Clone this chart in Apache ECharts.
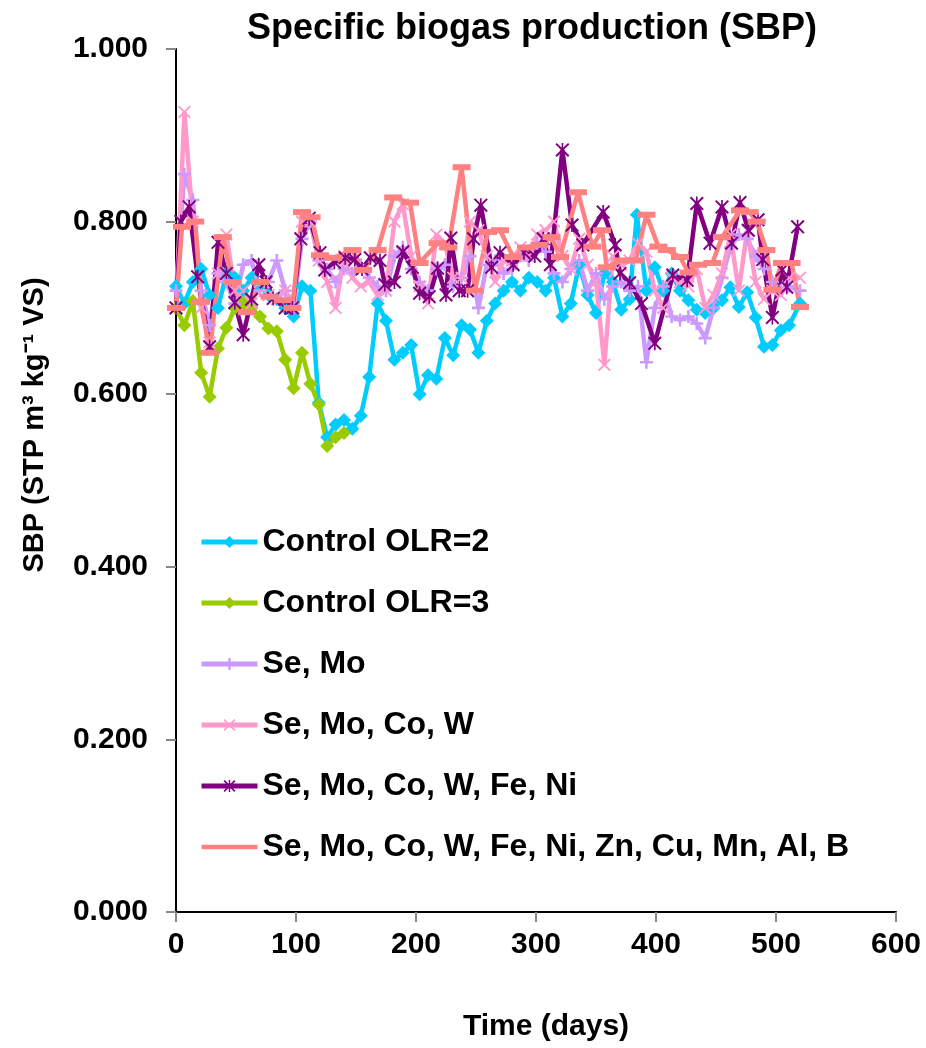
<!DOCTYPE html>
<html>
<head>
<meta charset="utf-8">
<script src="https://cdn.jsdelivr.net/npm/echarts@6/dist/echarts.min.js"></script>
<style>
  html, body { margin: 0; padding: 0; background: #fff; }
  #chart { width: 926px; height: 1048px; }
</style>
</head>
<body>
<div id="chart"></div>
<script>
// data: [day, SBP]
var control2 = [[0,0.725],[7,0.705],[14,0.730],[21,0.745],[28,0.715],[35,0.700],[42,0.740],[49,0.735],[56,0.720],[63,0.735],[70,0.725],[77,0.715],[84,0.710],[91,0.700],[98,0.690],[105,0.725],[112,0.720],[119,0.590],[126,0.550],[133,0.565],[140,0.570],[147,0.560],[154,0.575],[161,0.620],[168,0.705],[175,0.685],[182,0.640],[189,0.648],[196,0.657],[203,0.600],[210,0.622],[217,0.618],[224,0.665],[231,0.645],[238,0.680],[245,0.675],[252,0.648],[259,0.685],[266,0.705],[273,0.720],[280,0.730],[287,0.720],[294,0.735],[301,0.730],[308,0.720],[315,0.735],[322,0.690],[329,0.705],[336,0.750],[343,0.715],[350,0.694],[357,0.740],[364,0.730],[371,0.698],[378,0.710],[384,0.808],[392,0.720],[399,0.747],[406,0.720],[413,0.740],[420,0.720],[427,0.709],[434,0.698],[441,0.694],[448,0.700],[455,0.709],[462,0.724],[469,0.701],[476,0.718],[483,0.689],[490,0.655],[497,0.657],[504,0.674],[511,0.680],[520,0.705]];
var control3 = [[0,0.700],[7,0.680],[14,0.708],[21,0.625],[28,0.597],[35,0.653],[42,0.677],[49,0.700],[56,0.706],[63,0.700],[70,0.690],[77,0.676],[84,0.673],[91,0.640],[98,0.607],[105,0.648],[112,0.612],[119,0.588],[126,0.540],[133,0.550],[140,0.555]];
var seMo = [[0,0.720],[7,0.855],[14,0.825],[21,0.720],[28,0.680],[35,0.740],[42,0.730],[49,0.705],[56,0.750],[63,0.755],[70,0.720],[77,0.730],[84,0.755],[91,0.720],[98,0.700],[105,0.780],[112,0.800],[119,0.755],[126,0.745],[133,0.730],[140,0.745],[147,0.740],[154,0.750],[161,0.735],[168,0.725],[175,0.720],[182,0.760],[189,0.770],[196,0.745],[203,0.730],[210,0.720],[217,0.745],[224,0.750],[231,0.725],[238,0.735],[245,0.760],[252,0.700],[259,0.750],[266,0.755],[273,0.740],[280,0.745],[287,0.760],[294,0.755],[301,0.775],[308,0.765],[315,0.740],[322,0.730],[329,0.745],[336,0.755],[343,0.720],[350,0.740],[357,0.710],[364,0.725],[371,0.730],[378,0.720],[385,0.725],[392,0.637],[399,0.700],[406,0.725],[413,0.690],[420,0.686],[427,0.690],[434,0.682],[441,0.665],[448,0.700],[455,0.735],[462,0.770],[469,0.785],[476,0.780],[483,0.760],[490,0.745],[497,0.730],[504,0.720],[511,0.725],[520,0.720]];
var seMoCoW = [[0,0.700],[7,0.927],[14,0.800],[21,0.700],[28,0.660],[35,0.740],[42,0.785],[49,0.720],[56,0.720],[63,0.705],[70,0.730],[77,0.715],[84,0.710],[91,0.720],[98,0.700],[105,0.800],[112,0.800],[119,0.755],[126,0.730],[133,0.700],[140,0.760],[147,0.735],[154,0.725],[161,0.730],[168,0.715],[175,0.720],[182,0.800],[189,0.820],[196,0.760],[203,0.725],[210,0.705],[217,0.785],[224,0.775],[231,0.735],[238,0.735],[245,0.800],[252,0.790],[259,0.760],[266,0.730],[273,0.755],[280,0.755],[287,0.770],[294,0.760],[301,0.785],[308,0.790],[315,0.800],[322,0.760],[329,0.745],[336,0.780],[343,0.750],[350,0.730],[357,0.634],[364,0.760],[371,0.750],[378,0.755],[385,0.775],[392,0.765],[399,0.720],[406,0.700],[413,0.735],[420,0.730],[427,0.725],[434,0.745],[441,0.700],[448,0.715],[455,0.740],[462,0.785],[469,0.720],[476,0.790],[483,0.730],[490,0.710],[497,0.720],[504,0.715],[511,0.735],[520,0.735]];
var seMoCoWFeNi = [[0,0.700],[4,0.800],[11,0.817],[18,0.736],[28,0.655],[35,0.776],[42,0.740],[49,0.706],[56,0.669],[63,0.710],[69,0.750],[75,0.730],[81,0.711],[91,0.700],[97,0.700],[104,0.780],[111,0.804],[120,0.764],[124,0.744],[132,0.753],[141,0.758],[149,0.756],[155,0.745],[162,0.758],[170,0.755],[174,0.727],[182,0.730],[189,0.765],[197,0.747],[203,0.717],[211,0.713],[218,0.746],[225,0.715],[229,0.781],[236,0.720],[243,0.720],[248,0.780],[254,0.819],[263,0.747],[270,0.764],[281,0.750],[290,0.764],[299,0.760],[306,0.780],[312,0.750],[322,0.883],[330,0.796],[339,0.773],[356,0.811],[366,0.773],[370,0.740],[378,0.729],[388,0.705],[399,0.659],[414,0.738],[426,0.732],[434,0.821],[445,0.775],[455,0.817],[463,0.775],[470,0.822],[477,0.790],[485,0.802],[489,0.756],[497,0.689],[505,0.744],[509,0.724],[518,0.794]];
var seMoAll = [[0,0.700],[5,0.794],[16,0.800],[21,0.707],[28,0.648],[39,0.782],[47,0.730],[59,0.695],[70,0.730],[78,0.713],[89,0.709],[97,0.700],[105,0.811],[113,0.805],[120,0.761],[131,0.758],[147,0.767],[156,0.744],[168,0.767],[181,0.828],[195,0.822],[203,0.752],[218,0.775],[227,0.770],[238,0.863],[249,0.720],[260,0.788],[270,0.790],[281,0.759],[292,0.770],[303,0.773],[313,0.782],[320,0.759],[335,0.834],[347,0.771],[355,0.790],[359,0.747],[372,0.755],[383,0.755],[392,0.808],[402,0.771],[409,0.767],[420,0.759],[427,0.741],[435,0.750],[447,0.752],[455,0.782],[470,0.813],[478,0.811],[484,0.800],[492,0.767],[497,0.721],[505,0.752],[513,0.752],[520,0.701]];

var names = ['Control OLR=2', 'Control OLR=3', 'Se, Mo', 'Se, Mo, Co, W', 'Se, Mo, Co, W, Fe, Ni', 'Se, Mo, Co, W, Fe, Ni, Zn, Cu, Mn, Al, B'];
var colors = ['#00CCFF', '#99CC00', '#CC99FF', '#FF99CC', '#800080', '#FF8080'];

// marker shapes like the excel ones
var plus = 'path://M4,0h2v10h-2z M0,4h10v2h-10z';
var cross = 'path://M0,1L1,0L10,9L9,10z M9,0L10,1L1,10L0,9z';
var star = 'path://M0,1L1,0L10,9L9,10z M9,0L10,1L1,10L0,9z M4.4,0h1.2v10h-1.2z';
// legend icon for the last series: just a thick line (tiny corner dots keep the box size)
var lineIcon = 'path://M0,0h0.01v0.01h-0.01z M0,5.3h56v4.4h-56z M55.99,14.99h0.01v0.01h-0.01z';
var font = '"Liberation Sans", Arial, sans-serif';

function mk(i, data, symbol, size) {
    return {
        name: names[i],
        type: 'line',
        data: data,
        symbol: symbol,
        symbolSize: size,
        showAllSymbol: true,
        lineStyle: { color: colors[i], width: 4.5 },
        itemStyle: { color: colors[i] },
        emphasis: { disabled: true }
    };
}

var legendData = names.map(function (n, i) {
    return i === 5 ? { name: n, icon: lineIcon } : { name: n };
});

var chart = echarts.init(document.getElementById('chart'));
var option = {
    animation: false,
    textStyle: { fontFamily: font },
    title: {
        text: 'Specific biogas production (SBP)',
        left: 527,
        textAlign: 'center',
        top: 6,
        textStyle: { fontSize: 36, fontWeight: 'bold', color: '#000', fontFamily: font }
    },
    legend: {
        orient: 'vertical',
        left: 194,
        top: 521,
        itemGap: 29,
        itemWidth: 56,
        itemHeight: 15,
        lineStyle: { width: 5 },
        data: legendData,
        textStyle: { fontSize: 32, fontWeight: 'bold', color: '#000', fontFamily: font }
    },
    grid: { left: 176, right: 30, top: 49, bottom: 136 },
    xAxis: {
        type: 'value',
        min: 0, max: 600, interval: 100,
        axisLine: { lineStyle: { color: '#000', width: 2 } },
        axisTick: { length: 10, lineStyle: { color: '#888', width: 2 } },
        axisLabel: { fontSize: 30, fontWeight: 'bold', color: '#000', margin: 18 },
        splitLine: { show: false }
    },
    yAxis: {
        type: 'value',
        min: 0, max: 1, interval: 0.2,
        axisLine: { show: true, lineStyle: { color: '#000', width: 2 } },
        axisTick: { show: true, length: 10, lineStyle: { color: '#888', width: 2 } },
        axisLabel: { fontSize: 30, fontWeight: 'bold', color: '#000', margin: 28,
            formatter: function (v) { return v.toFixed(3); } },
        splitLine: { show: false }
    },
    graphic: [
        {
            type: 'text', x: 35, y: 425, rotation: Math.PI / 2,
            style: { text: 'SBP (STP m³ kg⁻¹ VS)', font: 'bold 29px ' + font, fill: '#000',
                textAlign: 'center', textVerticalAlign: 'middle' }
        },
        {
            type: 'text', x: 546, y: 1027,
            style: { text: 'Time (days)', font: 'bold 30px ' + font, fill: '#000',
                textAlign: 'center', textVerticalAlign: 'middle' }
        }
    ],
    series: [
        mk(0, control2, 'diamond', 14),
        mk(1, control3, 'diamond', 14),
        mk(2, seMo, plus, 13),
        mk(3, seMoCoW, cross, 13),
        mk(4, seMoCoWFeNi, star, 14),
        mk(5, seMoAll, 'rect', [18, 6])
    ]
};
chart.setOption(option);
</script>
</body>
</html>
